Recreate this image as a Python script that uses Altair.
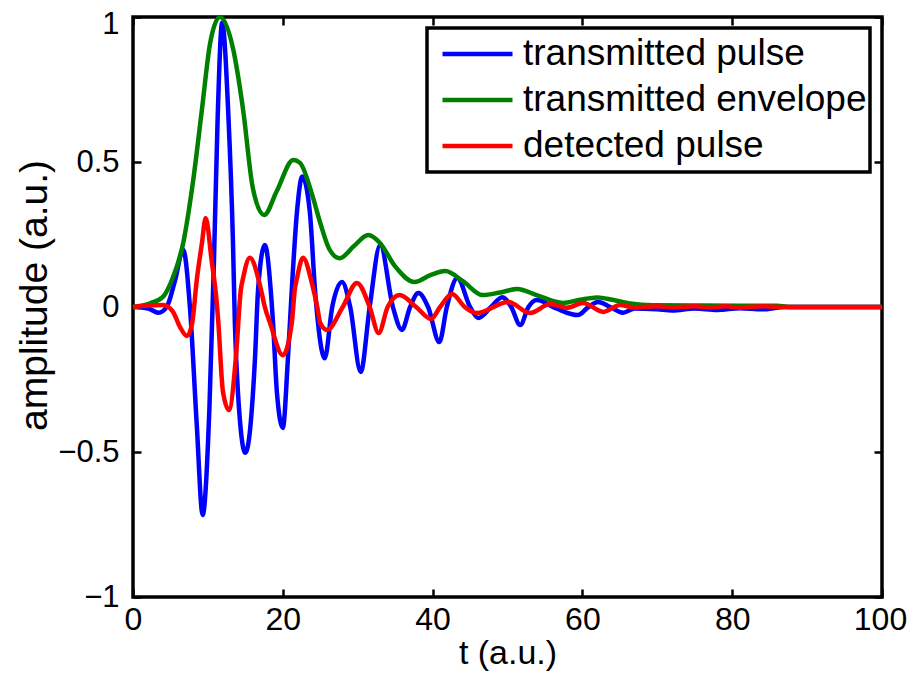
import altair as alt
import pandas as pd

# ---- data ----
blue_t = [0, 2.0, 3.4, 4.5, 5.6, 6.7, 7.6, 8.5, 9.3, 10.2, 10.8, 11.3, 11.9,
          12.7, 13.35, 13.6, 14.0, 15.0, 16.3, 16.7, 17.6, 18.5, 18.7, 19.2, 20.0, 20.7,
          21.2, 21.9, 22.6, 23.6, 24.3, 24.7, 25.6, 26.6, 27.9, 29.0, 30.4, 31.6, 33.0,
          34.7, 35.9, 37.0, 38.1, 39.4, 40.9, 41.9, 43.3, 45.0, 46.1, 47.8, 49.3, 50.5,
          51.7, 52.8, 53.9, 56.5, 59.4, 60.8, 62.1, 63.7, 65.4, 67.0, 70, 72, 75, 78, 81,
          84, 87, 100]
blue_y = [0, -0.005, -0.02, 0.0, 0.09, 0.197, 0.0, -0.40, -0.717, -0.35, 0.15, 0.65,
          0.98, 0.68, 0.22, -0.055, -0.29, -0.503, -0.17, 0.06, 0.214, 0.02, -0.055,
          -0.29, -0.417, -0.17, 0.06, 0.33, 0.45, 0.33, 0.06, -0.055, -0.177, 0.0, 0.086,
          0.0, -0.224, 0.0, 0.214, 0.0, -0.079, 0.0, 0.048, 0.0, -0.121, 0.0, 0.10, 0.0,
          -0.038, 0.0, 0.034, 0.0, -0.062, 0.0, 0.024, -0.005, -0.028, 0.0, 0.017, 0.0,
          -0.02, -0.005, -0.008, -0.012, -0.005, -0.01, -0.004, -0.008, 0.0, 0.0]

green_t = [0, 2.3, 4.0, 5.3, 6.7, 8.0, 9.2, 10.3, 11.6, 13.4, 14.7, 16.0, 17.5, 19.2, 21.4,
           22.3, 24.0, 25.0, 26.2, 27.6, 29.5, 31.4, 33.0, 35.0, 37.6, 39.7, 41.7, 44.0,
           46.7, 49.0, 51.3, 54.0, 57.4, 59.7, 62.0, 64.0, 66.4, 69.4, 75, 86, 88, 100]
green_y = [0, 0.013, 0.035, 0.10, 0.22, 0.43, 0.68, 0.91, 1.0, 0.886, 0.68, 0.41, 0.317,
           0.40, 0.507, 0.497, 0.38, 0.29, 0.20, 0.168, 0.21, 0.248, 0.22, 0.14, 0.086,
           0.11, 0.124, 0.09, 0.041, 0.05, 0.062, 0.04, 0.014, 0.025, 0.033, 0.025, 0.012,
           0.006, 0.005, 0.004, 0.0, 0.0]

red_t = [0, 2.0, 4.0, 5.3, 6.3, 7.2, 7.9, 8.5, 9.2, 9.7, 10.5, 11.2, 11.4, 12.0, 12.8, 13.75,
         14.4, 14.7, 15.6, 17.0, 17.6, 18.3, 20.0, 21.2, 21.6, 21.9, 22.7, 23.9, 24.6, 25.0,
         25.9, 28.0, 29.9, 31.6, 32.8, 34.0, 35.6, 37.8, 39.8, 41.0, 42.6, 44.3, 45.9, 50.1,
         53.0, 55.7, 57.9, 60.1, 62.8, 65.0, 67.0, 70, 72, 75, 77, 79, 81, 84, 86, 100]
red_y = [0, 0.005, 0.007, -0.015, -0.07, -0.10, -0.055, 0.09, 0.22, 0.307, 0.16, 0.01,
         -0.055, -0.29, -0.355, -0.17, 0.06, 0.10, 0.17, 0.07, 0.0, -0.055, -0.166, -0.055,
         0.06, 0.10, 0.17, 0.08, 0.0, -0.055, -0.079, 0.0, 0.083, 0.0, -0.09, 0.0, 0.041,
         0.0, -0.041, 0.0, 0.045, 0.0, -0.021, 0.017, -0.021, 0.01, -0.003, 0.014, -0.017,
         0.007, -0.002, 0.003, -0.002, 0.003, -0.002, 0.003, -0.002, 0.003, 0.0, 0.0]

series = ["transmitted pulse", "transmitted envelope", "detected pulse"]
colors = ["#0000ff", "#008000", "#ff0000"]
x_ticks = [0, 20, 40, 60, 80, 100]
y_ticks = [-1, -0.5, 0, 0.5, 1]

rows = []
for name, ts, ys in zip(series, [blue_t, green_t, red_t], [blue_y, green_y, red_y]):
    for t, y in zip(ts, ys):
        rows.append({"t": t, "amp": y, "series": name})
df = pd.DataFrame(rows)

W, H = 749, 580
xs = alt.Scale(domain=[0, 100], nice=False, zero=False)
ys_ = alt.Scale(domain=[-1, 1], nice=False, zero=False)

FONT = "Liberation Sans, Arial, sans-serif"

def tick_axis(orient, off, values):
    return alt.Axis(orient=orient, offset=off, values=values, labels=False, title="",
                    domain=False, grid=False, ticks=True, tickSize=8, tickWidth=2.5,
                    tickColor="black")

# inward ticks on all four sides (axes moved across the plot)
ticks1 = alt.Chart(df).mark_line(opacity=0).encode(
    x=alt.X("t:Q", scale=xs, axis=tick_axis("top", -H, x_ticks)),
    y=alt.Y("amp:Q", scale=ys_, axis=tick_axis("right", -W, y_ticks)),
    detail="series:N",
)
ticks2 = alt.Chart(df).mark_line(opacity=0).encode(
    x=alt.X("t:Q", scale=xs, axis=tick_axis("bottom", -H, x_ticks)),
    y=alt.Y("amp:Q", scale=ys_, axis=tick_axis("left", -W, y_ticks)),
    detail="series:N",
)

lines = alt.Chart(df).mark_line(strokeWidth=4.5, interpolate="monotone").encode(
    x=alt.X("t:Q", scale=xs,
            axis=alt.Axis(orient="bottom", values=x_ticks, title="t (a.u.)", ticks=False,
                          domain=False, grid=False, labelFlush=False, format="d",
                          labelFont=FONT, labelFontSize=32, labelPadding=7,
                          labelOffset={"condition": {"test": "datum.value == 100", "value": -2},
                                       "value": 0},
                          labelColor="black", titleFont=FONT, titleFontSize=34,
                          titleFontWeight="normal", titleColor="black", titlePadding=1)),
    y=alt.Y("amp:Q", scale=ys_,
            axis=alt.Axis(orient="left", values=y_ticks, title="amplitude (a.u.)", ticks=False,
                          domain=False, grid=False, labelFlush=False, format=".1~f",
                          labelFont=FONT, labelFontSize=31, labelPadding=14,
                          labelOffset={"condition": {"test": "datum.value == 1", "value": 7},
                                       "value": 0},
                          labelColor="black", titleFont=FONT, titleFontSize=39,
                          titleFontWeight="normal", titleColor="black", titlePadding=3,
                          titleY=278)),
    color=alt.Color("series:N",
                    scale=alt.Scale(domain=series, range=colors),
                    legend=alt.Legend(title=None, orient="none", legendX=294, legendY=11,
                                      symbolType="stroke", symbolSize=4900,
                                      symbolStrokeWidth=4.5, symbolOffset=10,
                                      clipHeight=46, rowPadding=0,
                                      labelFont=FONT, labelFontSize=37, labelColor="black",
                                      labelOffset=8, padding=3, strokeColor="black",
                                      fillColor="white", labelLimit=600,
                                      labelExpr="datum.label + '\u00a0'")),
    order=alt.Order("t:Q"),
)

chart = alt.layer(ticks1, ticks2, lines).resolve_axis(
    x="independent", y="independent"
).properties(
    width=W, height=H,
    autosize=alt.AutoSizeParams(type="none"),
    padding={"left": 125, "top": 9, "right": 25, "bottom": 82},
).configure_view(
    stroke="black", strokeWidth=3.5
).configure_legend(
    strokeWidth=3.5
)

chart.save("out.html", embed_options={"renderer": "svg", "actions": False})
